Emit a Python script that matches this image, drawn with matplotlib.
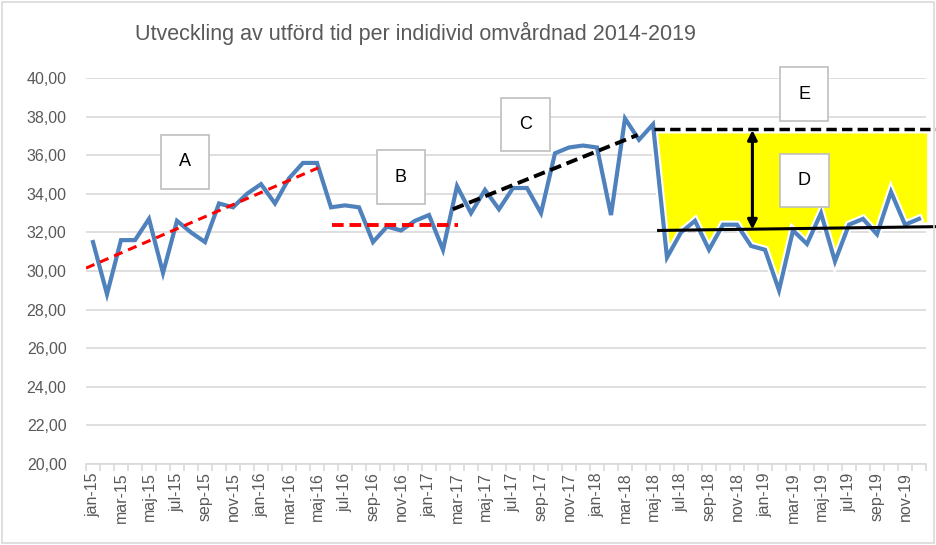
import numpy as np
import matplotlib.pyplot as plt
from matplotlib.patches import Rectangle

# month labels jan-15 .. dec-19
mon = ['jan', 'feb', 'mar', 'apr', 'maj', 'jun', 'jul', 'aug', 'sep', 'okt', 'nov', 'dec']
months = [f'{m}-{y}' for y in range(15, 20) for m in mon]

# utförd tid per individ
values = [31.5, 28.8, 31.6, 31.6, 32.7, 29.9, 32.6, 32.0, 31.5, 33.5, 33.3, 34.0,
          34.5, 33.5, 34.8, 35.6, 35.6, 33.3, 33.4, 33.3, 31.5, 32.3, 32.1, 32.6,
          32.9, 31.1, 34.4, 33.0, 34.2, 33.2, 34.3, 34.3, 33.0, 36.1, 36.4, 36.5,
          36.4, 32.9, 37.9, 36.8, 37.6, 30.7, 32.0, 32.6, 31.1, 32.4, 32.4, 31.3,
          31.1, 29.0, 32.1, 31.4, 33.0, 30.5, 32.4, 32.7, 31.9, 34.1, 32.4, 32.7]

# annotation lines: (x0, x1, y0, y1) in month index / value
trend_a = (-0.5, 16.1, 30.15, 35.35)
level_b = (17.1, 26.1, 32.4, 32.4)
trend_c = (25.7, 38.9, 33.2, 37.05)
level_e = (40.1, 60.5, 37.36, 37.36)
level_low = (40.4, 60.5, 32.1, 32.3)
fill_top = 37.15

boxes = {'A': (6.6, 35.65), 'B': (22.0, 34.87), 'C': (30.9, 37.6),
         'E': (50.8, 39.17), 'D': (50.8, 34.7)}

idx = np.arange(len(values))
vals = np.array(values)
gray = '#595959'
grid = '#d9d9d9'

fig = plt.figure(figsize=(9.36, 5.45), dpi=100)
ax = fig.add_axes([86 / 936, 1 - 464 / 545, 840 / 936, 386 / 545])
ax.set_xlim(-0.5, 59.5)
ax.set_ylim(20, 40)

# yellow region between line and upper level
xs = np.linspace(40.3, 59.8, 400)
lower = np.interp(xs, idx, vals) - 0.15
ax.fill_between(xs, lower, fill_top, color='#ffff00', lw=0, zorder=2)

ax.plot(idx[40:], vals[40:], color='white', lw=6, solid_joinstyle='miter', zorder=3)
ax.plot(idx, vals, color='#4f81bd', lw=3, solid_joinstyle='miter', zorder=4)

ax.plot(trend_a[:2], trend_a[2:], color='#ff0000', lw=2.2, ls=(0, (3, 2)), zorder=5)
ax.plot(level_b[:2], level_b[2:], color='#ff0000', lw=2.8, ls=(0, (3, 1.5)), zorder=5)
ax.plot(trend_c[:2], trend_c[2:], color='black', lw=2.8, ls=(0, (3, 1.5)), zorder=5, clip_on=False)
ax.plot(level_e[:2], level_e[2:], color='black', lw=2.5, ls=(0, (3, 1.5)), zorder=5, clip_on=False)
ax.plot(level_low[:2], level_low[2:], color='black', lw=2.2, zorder=5, clip_on=False)
ax.annotate('', xy=(47.1, 37.3), xytext=(47.1, 32.15),
            arrowprops=dict(arrowstyle='<|-|>', color='black', lw=2.2,
                            mutation_scale=14, shrinkA=0, shrinkB=0), zorder=6)

for lab, (bx, by) in boxes.items():
    ax.text(bx, by, lab, ha='center', va='center', fontsize=13, family='Liberation Sans',
            zorder=7, bbox=dict(boxstyle='square,pad=1.0', fc='white', ec='#bfbfbf', lw=1.2))

# axes styling
ax.set_yticks(np.arange(20, 41, 2))
ax.set_yticklabels([f'{v:.2f}'.replace('.', ',') for v in np.arange(20, 41, 2)],
                   fontsize=11.5, color=gray, family='Liberation Sans')
ax.yaxis.grid(True, color=grid, lw=1.2)
ax.set_axisbelow(True)
ax.tick_params(axis='y', length=0, pad=14)
for s in ['top', 'right', 'left']:
    ax.spines[s].set_visible(False)
ax.spines['bottom'].set_color(grid)
ax.spines['bottom'].set_linewidth(1.2)

ax.set_xticks(idx[::2])
ax.set_xticklabels(months[::2], rotation=90, fontsize=11.5, color=gray, family='Liberation Sans')
ax.set_xticks(np.arange(-0.5, 60, 1), minor=True)
ax.tick_params(axis='x', which='major', length=0, pad=6)
ax.tick_params(axis='x', which='minor', length=5, color=grid, width=1.2)

fig.text(415 / 936, 1 - 33 / 545, 'Utveckling av utförd tid per indidivid omvårdnad 2014-2019',
         ha='center', va='center', fontsize=15.5, color=gray, family='Liberation Sans')
fig.patches.append(Rectangle((2 / 936, 2 / 545), 932 / 936, 541 / 545, transform=fig.transFigure,
                             fill=False, ec=grid, lw=1.2))

fig.savefig('out.png', dpi=100)
